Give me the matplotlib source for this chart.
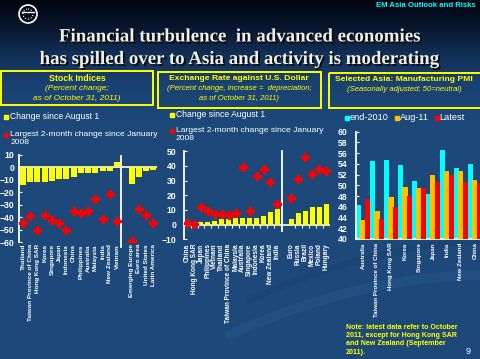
import numpy as np
import matplotlib
matplotlib.use('Agg')
import matplotlib.pyplot as plt
from matplotlib import patheffects as pe
from matplotlib.patches import Rectangle, Circle

W, H = 480, 359

# ---------------- data ----------------
stock_asia = ['Thailand', 'Taiwan Province of China', 'Hong Kong SAR', 'Korea', 'Singapore',
              'Japan', 'Indonesia', 'China', 'Philippines', 'Australia', 'Malaysia', 'India',
              'New Zealand', 'Vietnam']
stock_asia_aug = [-14, -12, -11.5, -11.5, -11, -9.5, -9.5, -8, -4.8, -4.8, -4.5, -3, -2.5, 4.5]
stock_asia_max = [-45, -39, -50, -38, -42, -45, -50, -35, -36.7, -35, -25, -41.7, -21.4, -42.8]
stock_other = ['Emerging Europe', 'Euro area', 'United States', 'Latin America']
stock_other_aug = [-13, -8, -3, -1.7]
stock_other_max = [-59, -33.6, -38.6, -44.4]

fx_asia = ['China', 'Hong Kong SAR', 'Japan', 'Philippines', 'Vietnam', 'Thailand',
           'Taiwan Province of China', 'Malaysia', 'Australia', 'Singapore', 'Indonesia',
           'Korea', 'New Zealand', 'India']
fx_asia_aug = [-1, 0.2, 1.8, 1.8, 2.7, 3.9, 3.9, 4.5, 4.8, 4.8, 4.8, 6.1, 8.6, 10.7]
fx_asia_max = [1.1, 0.5, 11.8, 9.1, 7, 7, 6.8, 7.7, 39.5, 9.1, 33.4, 38, 28.9, 14.1]
fx_other = ['Euro', 'Russia', 'Brazil', 'Mexico', 'Poland', 'Hungary']
fx_other_aug = [3.6, 8.2, 9.3, 12, 12, 14.3]
fx_other_max = [18.2, 31, 46, 34.4, 38, 36.6]

pmi_cats = ['Australia', 'Taiwan Province of China', 'Hong Kong SAR', 'Korea', 'Singapore',
            'Japan', 'India', 'New Zealand', 'China']
pmi_end2010 = [46.3, 54.6, 54.8, 53.8, 50.8, 48.4, 56.5, 53.2, 54.0]
pmi_aug11 = [43.5, 45.3, 47.8, 49.7, 49.5, 51.9, 52.7, 52.7, 51.0]
pmi_latest = [47.5, 43.8, 46.0, 48.0, 49.5, 50.6, 51.9, 50.7, 50.4]
pmi_series = ['end-2010', 'Aug-11', 'Latest']

YEL = '#ffff00'
RED = '#ff0000'
CYAN = '#00ffff'
ORANGE = '#ffc000'
SANS = 'Liberation Sans'

fig = plt.figure(figsize=(4.8, 3.59), dpi=100)

# ---------------- background ----------------
bg = fig.add_axes([0, 0, 1, 1])
ys = np.arange(H)
stops_y = [0, 25, 55, 85, 130, 359]
stops_c = np.array([[0.00, 0.02, 0.06],
                    [0.03, 0.08, 0.17],
                    [0.07, 0.19, 0.34],
                    [0.10, 0.26, 0.45],
                    [0.11, 0.29, 0.48],
                    [0.11, 0.29, 0.48]])
grad = np.stack([np.interp(ys, stops_y, stops_c[:, k]) for k in range(3)], axis=1)
img = np.repeat(grad[:, None, :], 10, axis=1)
bg.imshow(img, aspect='auto', extent=[0, W, H, 0], interpolation='bilinear')
# faint swoosh
t = np.linspace(0, 1, 200)
bg.plot(230 + 260 * t, 335 - 120 * t + 60 * t ** 2, color='#2a5d93', lw=7, alpha=0.35,
        solid_capstyle='round')
bg.plot(250 + 240 * t, 300 - 110 * t + 50 * t ** 2, color='#163f6c', lw=5, alpha=0.4,
        solid_capstyle='round')
bg.set_xlim(0, W)
bg.set_ylim(H, 0)
bg.axis('off')

# logo
bg.add_patch(Circle((28, 14), 9, fill=False, ec='white', lw=1.2))
bg.add_patch(Circle((28, 14), 5, fill=False, ec='white', lw=0.8, ls=':'))
bg.plot([22, 34], [12, 12], color='white', lw=1)

bg.text(476, 5.5, 'EM Asia Outlook and Risks', ha='right', va='center', color=CYAN,
        fontsize=5.6, fontweight='bold', family=SANS)

shadow = [pe.withSimplePatchShadow(offset=(1.2, -1.2), shadow_rgbFace='black', alpha=0.9)]
bg.text(240, 37, 'Financial turbulence  in advanced economies', ha='center', va='center',
        fontsize=13.6, fontweight='bold', family='Liberation Serif', color='#f2f0e6',
        path_effects=shadow)
bg.text(240, 59.5, 'has spilled over to Asia and activity is moderating', ha='center',
        va='center', fontsize=13.6, fontweight='bold', family='Liberation Serif',
        color='#f2f0e6', path_effects=shadow)

# header boxes
def box(l, t, r, b):
    bg.add_patch(Rectangle((l, t), r - l, b - t, fill=False, ec=YEL, lw=1.4, clip_on=False))

box(1, 71, 153, 105)
box(158, 72, 320.5, 107.5)
box(329, 73, 482, 107.5)

def htext(x, y, s, bold=False, italic=False, size=6.3):
    bg.text(x, y, s, ha='center', va='center', color=YEL, fontsize=size,
            fontweight='bold' if bold else 'normal',
            fontstyle='italic' if italic else 'normal', family=SANS)

htext(77, 78.5, 'Stock Indices', bold=True)
htext(77, 88.5, '(Percent change;', italic=True, size=6.0)
htext(77, 98, 'as of October 31, 2011)', italic=True, size=6.0)
htext(239, 79, 'Exchange Rate against U.S. Dollar', bold=True, size=6.1)
htext(239, 88.5, '(Percent change, increase =  depreciation;', italic=True, size=5.6)
htext(239, 98, 'as of October 31, 2011)', italic=True, size=5.6)
htext(404, 79.5, 'Selected Asia: Manufacturing PMI', bold=True, size=6.1)
htext(404, 89.5, '(Seasonally adjusted; 50=neutral)', italic=True, size=5.6)

# legends for panel 1 and 2
def leg12(x0, y_aug, y_max):
    bg.plot([x0], [y_aug], 's', color=YEL, ms=3.2, mec=YEL)
    bg.text(x0 + 4.5, y_aug, 'Change since August 1', color='white', fontsize=6.2,
            va='center', ha='left', family=SANS)
    bg.plot([x0], [y_max], 'D', color=RED, ms=2.6, mec=RED)
    bg.text(x0 + 4.5, y_max, 'Largest 2-month change since January', color='white',
            fontsize=6.1, va='center', ha='left', family=SANS)
    bg.text(x0 + 4.5, y_max + 8, '2008', color='white', fontsize=6.1, va='center',
            ha='left', family=SANS)

leg12(6, 116.5, 135)
leg12(171.5, 114.5, 130.5)

# legend for panel 3
for xm, c, s in zip([346.5, 396.5, 436.5], [CYAN, ORANGE, RED], pmi_series):
    bg.plot([xm], [118], 's', color=c, ms=3.0, mec=c)
    bg.text(xm + 3, 118, s, color='white', fontsize=6.6, va='center', ha='left', family=SANS)

# note
note = ['Note: latest data refer to October', '2011, except for Hong Kong SAR',
        'and New Zealand (September', '2011).']
for i, s in enumerate(note):
    bg.text(346, 327.5 + 8.2 * i, s, color=YEL, fontsize=5.1, fontweight='bold',
            va='center', ha='left', family=SANS)
bg.text(466, 351, '9', color='white', fontsize=6.5, va='center', ha='left', family=SANS)


def px_axes(l, t, r, b):
    a = fig.add_axes([l / W, 1 - b / H, (r - l) / W, (b - t) / H])
    a.patch.set_alpha(0)
    return a


def style(ax, pad, lab_size, lab_pad):
    for s in ['top', 'right', 'bottom']:
        ax.spines[s].set_visible(False)
    ax.spines['left'].set_color('white')
    ax.spines['left'].set_linewidth(1.3)
    ax.tick_params(axis='y', colors='white', labelsize=6.2, direction='in', length=2.5,
                   width=0.8, pad=pad)
    ax.tick_params(axis='x', colors='white', length=0, pad=lab_pad)
    for lb in ax.get_yticklabels():
        lb.set_fontweight('bold')
        lb.set_family(SANS)
    for lb in ax.get_xticklabels():
        lb.set_fontweight('bold')
        lb.set_family(SANS)
        lb.set_fontsize(lab_size)


# ---------------- panel 1: stocks ----------------
ax1 = px_axes(19.3, 155, 157, 242)
n1 = len(stock_asia)
x1a = np.arange(n1)
x1o = np.arange(len(stock_other)) + n1 + 1
ax1.bar(x1a, stock_asia_aug, width=0.82, color=YEL, zorder=2)
ax1.bar(x1o, stock_other_aug, width=0.82, color=YEL, zorder=2)
ax1.plot(x1a, stock_asia_max, 'P', color=RED, ms=5.8, mec=RED, ls='none', zorder=3)
ax1.plot(x1o, stock_other_max, 'P', color=RED, ms=5.8, mec=RED, ls='none', zorder=3)
ax1.axhline(0, color='white', lw=1.2, zorder=1)
ax1.plot([n1 - 0.5, n1 - 0.5], [9, -64], color='white', lw=1.3, clip_on=False)
ax1.set_xlim(-0.5, n1 + len(stock_other) + 0.5)
ax1.set_ylim(-60, 10)
ax1.set_yticks(np.arange(-60, 11, 10))
ax1.set_xticks(np.concatenate([x1a, x1o]))
ax1.set_xticklabels(stock_asia + stock_other, rotation=90, va='top')
style(ax1, 3.5, 4.6, 1.5)

# ---------------- panel 2: exchange rates ----------------
ax2 = px_axes(184.3, 151.3, 329.5, 239.3)
n2 = len(fx_asia)
x2a = np.arange(n2)
x2o = np.arange(len(fx_other)) + n2 + 1
ax2.bar(x2a, fx_asia_aug, width=0.72, color=YEL, zorder=2)
ax2.bar(x2o, fx_other_aug, width=0.72, color=YEL, zorder=2)
ax2.plot(x2a, fx_asia_max, 'P', color=RED, ms=5.8, mec=RED, ls='none', zorder=3)
ax2.plot(x2o, fx_other_max, 'P', color=RED, ms=5.8, mec=RED, ls='none', zorder=3)
ax2.axhline(0, color='white', lw=1.2, zorder=1)
bounds = np.concatenate([np.arange(n2) + 0.5, x2o + 0.5])
ax2.vlines(bounds, -2, 0, color='white', lw=0.8)
ax2.plot([n2 - 0.4, n2 - 0.4], [50, -4], color='white', lw=1.3, clip_on=False)
ax2.set_xlim(-0.4, n2 + len(fx_other) + 0.5)
ax2.set_ylim(-10, 50)
ax2.set_yticks(np.arange(-10, 51, 10))
ax2.set_xticks(np.concatenate([x2a, x2o]))
ax2.set_xticklabels(fx_asia + fx_other, rotation=90, va='top')
style(ax2, 5.5, 4.7, 3.0)

# ---------------- panel 3: PMI ----------------
ax3 = px_axes(356, 131.7, 480, 239)
x3 = np.arange(len(pmi_cats))
bw = 0.36
ax3.bar(x3 - 0.3, pmi_end2010, width=bw, color=CYAN, zorder=2)
ax3.bar(x3, pmi_aug11, width=bw, color=ORANGE, zorder=3)
ax3.bar(x3 + 0.3, pmi_latest, width=bw, color=RED, zorder=4)
ax3.set_xlim(-0.5, 8.36)
ax3.set_ylim(40, 60)
ax3.set_yticks(np.arange(40, 61, 2))
ax3.set_xticks(x3)
ax3.set_xticklabels(pmi_cats, rotation=90, va='top')
style(ax3, 6.0, 4.4, 2.5)
ax3.spines['bottom'].set_visible(True)
ax3.spines['bottom'].set_color('white')
ax3.spines['bottom'].set_linewidth(1.3)

fig.savefig('out.png', dpi=100)
